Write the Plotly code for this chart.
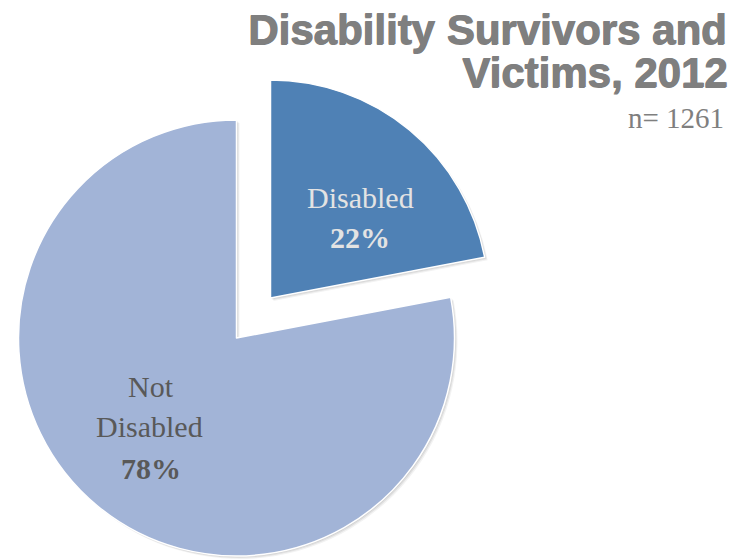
import plotly.graph_objects as go

# ---- data ----
categories = ["Disabled", "Not Disabled"]
percent_values = [22, 78]
sample_size = 1261
title_lines = ["Disability Survivors and", "Victims, 2012"]

# ---- styles ----
W, H = 737, 560
slice_colors = ["#4F81B5", "#A2B4D7"]
label_colors = ["#E3E3E3", "#595959"]
transparent = "rgba(0,0,0,0)"

# pie geometry (pixels): main pie and exploded slice
R = 218
centers = {"Not Disabled": (236.5, 338), "Disabled": (270.5, 298)}


def domain_for(cx, cy, r):
    return dict(
        x=[(cx - r) / W, (cx + r) / W],
        y=[(H - cy - r) / H, (H - cy + r) / H],
    )


fig = go.Figure()

# soft shadows under each slice
for i, cat in enumerate(categories):
    cx, cy = centers[cat]
    for off, alpha in [(3, 0.05), (2, 0.07), (1, 0.08)]:
        cols = [transparent, transparent]
        cols[i] = f"rgba(0,0,0,{alpha})"
        fig.add_trace(go.Pie(
            labels=categories, values=percent_values,
            sort=False, direction="clockwise", rotation=0,
            marker=dict(colors=cols, line=dict(width=0)),
            textinfo="none", hoverinfo="skip", showlegend=False,
            domain=domain_for(cx + off, cy + off, R),
        ))

# main slices (each drawn by its own pie trace so one can be exploded)
for i, cat in enumerate(categories):
    cx, cy = centers[cat]
    cols = [transparent, transparent]
    cols[i] = slice_colors[i]
    lw = [0, 0]
    lw[i] = 1.5
    fig.add_trace(go.Pie(
        labels=categories, values=percent_values,
        sort=False, direction="clockwise", rotation=0,
        marker=dict(colors=cols, line=dict(color="white", width=lw)),
        textinfo="none", hoverinfo="label+percent", showlegend=False,
        domain=domain_for(cx, cy, R),
    ))

# slice labels: one annotation per text line (x centre, baseline y)
label_lines = {
    "Disabled": [(360, 207), (360, 247)],
    "Not Disabled": [(151, 396), (149, 436), (151, 478)],
}
LABEL_SIZE = 30
total = sum(percent_values)
for i, cat in enumerate(categories):
    pct = round(100 * percent_values[i] / total)
    texts = cat.split(" ") + [f"<b>{pct}%</b>"]
    for t, (x, base) in zip(texts, label_lines[cat]):
        fig.add_annotation(
            x=x / W, y=1 - (base - 0.33 * LABEL_SIZE) / H,
            xref="paper", yref="paper",
            text=t, showarrow=False,
            font=dict(family="Liberation Serif", size=LABEL_SIZE,
                      color=label_colors[i]),
            xanchor="center", yanchor="middle",
        )

# title
title_y = [29, 73]
for line, y in zip(title_lines, title_y):
    fig.add_annotation(
        x=729 / W, y=1 - y / H, xref="paper", yref="paper",
        text=f"<b>{line}</b>", showarrow=False,
        font=dict(family="Liberation Sans", size=42, color="#7F7F7F",
                  shadow="1px 0px 0px #7F7F7F, 0px 0.6px 0px #7F7F7F"),
        xanchor="right", yanchor="middle", align="right",
    )

fig.add_annotation(
    x=726 / W, y=1 - 118 / H, xref="paper", yref="paper",
    text=f"n= {sample_size}", showarrow=False,
    font=dict(family="Liberation Serif", size=29, color="#7F7F7F"),
    xanchor="right", yanchor="middle",
)

fig.update_layout(
    width=W, height=H,
    margin=dict(l=0, r=0, t=0, b=0),
    paper_bgcolor="white", plot_bgcolor="white",
    showlegend=False,
)

fig.write_html(
    "out.html",
    config={"displayModeBar": False},
    post_script="document.body.style.margin='0px';",
)
